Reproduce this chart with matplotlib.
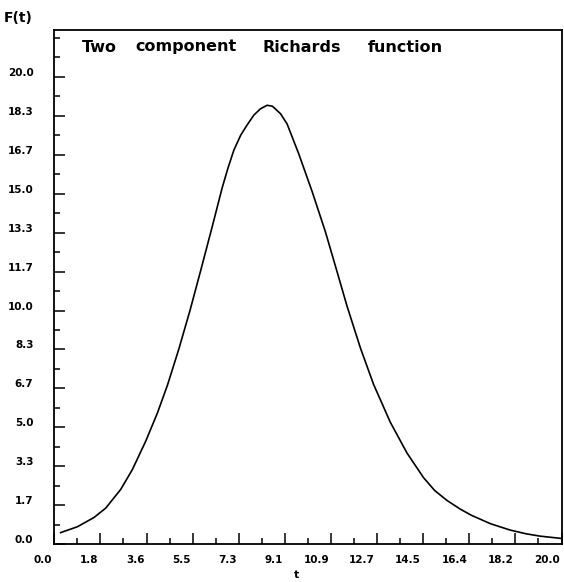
import matplotlib
matplotlib.use("Agg")
import matplotlib.pyplot as plt
from matplotlib.transforms import ScaledTranslation
from matplotlib.ticker import MultipleLocator

# curve
t = [0.25, 0.91, 1.57, 2.03, 2.62, 3.08, 3.60, 4.06, 4.46, 4.91,
     5.35, 5.77, 6.23, 6.62, 6.85, 7.08, 7.35, 7.61, 7.87, 8.13,
     8.39, 8.60, 8.92, 9.18, 9.64, 10.17, 10.69, 11.15, 11.54, 12.07,
     12.59, 13.25, 13.91, 14.56, 15.00, 15.48, 16.00, 16.45, 17.20, 17.97,
     18.60, 19.15, 20.0]
f = [0.50, 0.75, 1.15, 1.55, 2.35, 3.20, 4.40, 5.60, 6.80, 8.35,
     10.00, 11.70, 13.60, 15.25, 16.10, 16.86, 17.50, 17.95, 18.36, 18.63,
     18.78, 18.74, 18.42, 17.98, 16.70, 15.08, 13.37, 11.66, 10.20, 8.40,
     6.84, 5.22, 3.90, 2.85, 2.30, 1.88, 1.51, 1.24, 0.88, 0.61,
     0.45, 0.35, 0.25]

xticks = [0.0, 20/11, 40/11, 60/11, 80/11, 100/11, 120/11, 140/11, 160/11, 180/11, 200/11, 20.0]
xlabels = ["0.0", "1.8", "3.6", "5.5", "7.3", "9.1", "10.9", "12.7", "14.5", "16.4", "18.2", "20.0"]
yticks = [i * 20 / 12 for i in range(13)]
ylabels = ["0.0", "1.7", "3.3", "5.0", "6.7", "8.3", "10.0", "11.7", "13.3", "15.0", "16.7", "18.3", "20.0"]

title_words = ["Two", "component", "Richards", "function"]
title_x = [82, 135, 263, 368]  # pixel starts of the words

W, H = 564, 582
fig = plt.figure(figsize=(W / 100, H / 100), dpi=100)
ax = fig.add_axes([54.3 / W, 1 - 544.3 / H, (561.5 - 54.3) / W, (544.3 - 30) / H])

ax.plot(t, f, color="black", lw=1.2)
ax.set_xlim(0, 20)
ax.set_ylim(0, 22)

for s in ax.spines.values():
    s.set_linewidth(1.3)

ax.set_xticks(xticks)
ax.set_xticklabels(xlabels, ha="right", fontsize=7.5, fontweight="bold")
ax.set_yticks(yticks)
ax.set_yticklabels(ylabels, fontsize=7.5, fontweight="bold")
ax.xaxis.set_minor_locator(MultipleLocator(10 / 11))
ax.yaxis.set_minor_locator(MultipleLocator(10 / 12))
ax.tick_params(which="both", direction="in", top=False, right=False, width=1.1)
ax.tick_params(which="major", length=8)
ax.tick_params(which="minor", length=4)
ax.tick_params(axis="x", pad=8)
ax.tick_params(axis="y", pad=15)

for lab in ax.get_xticklabels():
    lab.set_transform(lab.get_transform() + ScaledTranslation(-0.02, 0, fig.dpi_scale_trans))
for lab in ax.get_yticklabels():
    lab.set_transform(lab.get_transform() + ScaledTranslation(0, 0.05, fig.dpi_scale_trans))

for word, px in zip(title_words, title_x):
    fig.text(px / W, 1 - 47 / H, word, fontsize=11.5, fontweight="bold", va="center", ha="left")

fig.text(33 / W, 1 - 18 / H, "F(t)", fontsize=10, fontweight="bold", va="center", ha="right")
fig.text(296 / W, 1 - 575 / H, "t", fontsize=8, fontweight="bold", va="center", ha="center")

fig.savefig("out.png", dpi=100)
